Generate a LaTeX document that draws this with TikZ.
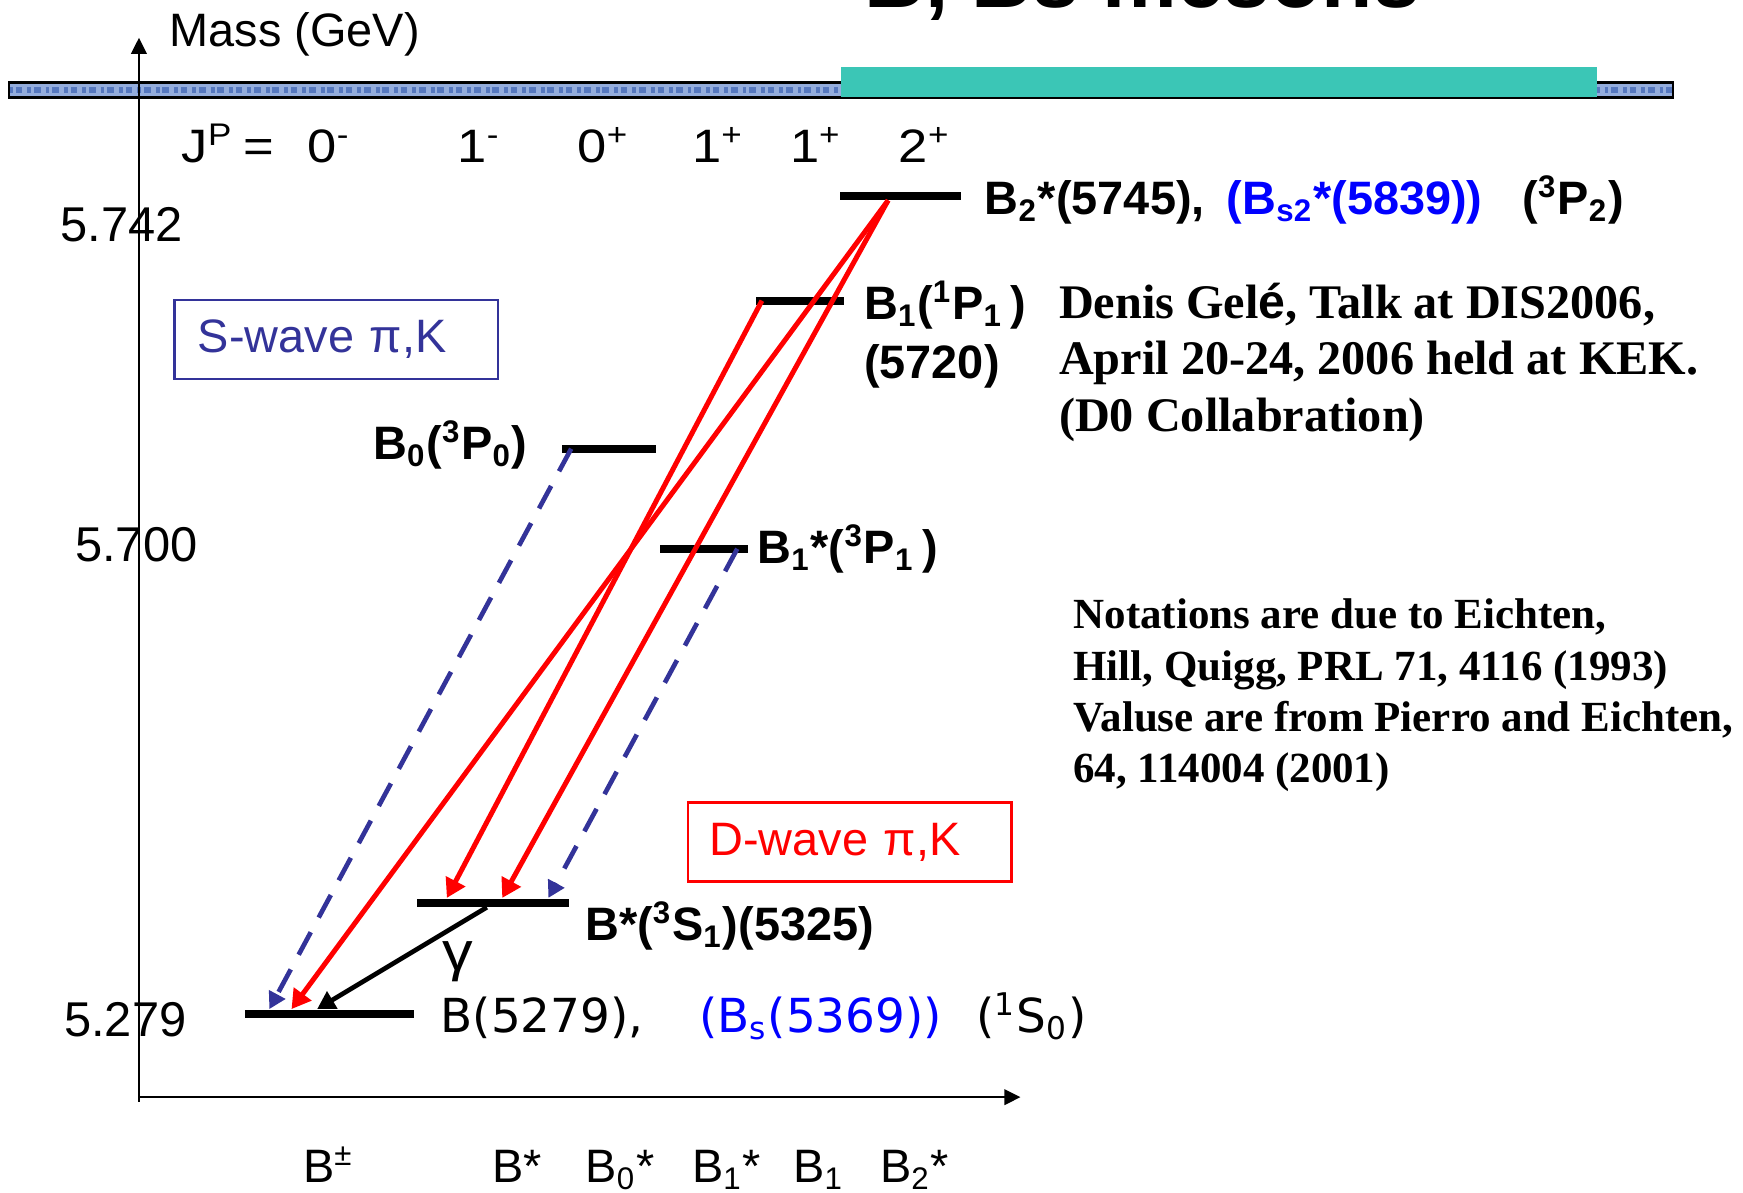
\documentclass[tikz,border=0pt]{standalone}
\usepackage{fontspec}
\setmainfont{Liberation Sans}
\newfontfamily\comicfont{Liberation Sans}[FakeStretch=1.12]
\newfontfamily\roundfont{DejaVu Sans}
\newfontfamily\reffont{Liberation Serif}
\usepackage{xcolor}
\usepackage{tikz}
\usetikzlibrary{arrows.meta,positioning,calc}
\definecolor{waveBlue}{HTML}{333399}
\definecolor{stateBlue}{HTML}{0000FF}
\definecolor{bannerTeal}{HTML}{3BC6B6}
\definecolor{bannerBlue}{HTML}{93ACDC}
\definecolor{bannerSpeck}{HTML}{5577BE}
\tikzset{
  massline/.style={
    rectangle,
    fill=black,
    inner sep=0pt,
    minimum height=0.7mm
  },
  statelabel/.style={
    inner sep=0pt,
    font=\bfseries\fontsize{12}{15}\selectfont
  },
  groundlabel/.style={
    inner sep=0pt,
    font=\roundfont\fontsize{12}{14}\selectfont
  },
  ticklabel/.style={
    inner sep=0pt,
    anchor=base west,
    font=\fontsize{12.5}{15}\selectfont
  },
  comiclabel/.style={
    inner sep=0pt,
    anchor=base west,
    font=\comicfont\fontsize{12}{14}\selectfont
  },
  mesonlabel/.style={
    inner sep=0pt,
    anchor=base west,
    font=\fontsize{12}{14}\selectfont
  },
  wavebox/.style={
    rectangle,
    line width=0.22mm,
    minimum width=29.1mm,
    minimum height=7.1mm,
    text width=24.9mm,
    inner xsep=2.1mm,
    align=left,
    font=\fontsize{12}{14}\selectfont
  },
  reftext/.style={
    inner sep=0pt,
    anchor=west,
    align=left,
    font=\reffont\bfseries\fontsize{12.35}{14.5}\selectfont
  },
  notetext/.style={
    inner sep=0pt,
    anchor=west,
    align=left,
    font=\reffont\bfseries\fontsize{11}{13.1}\selectfont
  },
  axis/.style={
    line width=0.2mm,
    -{Triangle[length=1.45mm,width=1.4mm]}
  },
  swave/.style={
    draw=waveBlue,
    line width=0.42mm,
    dash pattern=on 2.3mm off 1.5mm,
    -{Triangle[length=1.5mm,width=1.6mm]}
  },
  dwave/.style={
    draw=red,
    line width=0.45mm,
    -{Triangle[length=1.7mm,width=1.9mm]}
  },
  photon/.style={
    draw=black,
    line width=0.42mm,
    -{Triangle[length=1.6mm,width=1.75mm]}
  }
}

\begin{document}
\begin{tikzpicture}[x=0.1mm,y=-0.1mm]
  \useasboundingbox (0,0) rectangle (1568,1073);
  % slide title, cut by the page top
  \node[inner sep=0pt,anchor=base west,font=\bfseries\fontsize{21.5}{24}\selectfont] (title) at (777,7) {B, Bs mesons};
  % banner
  \fill[bannerBlue] (8,74) rectangle (1505,88);
  \draw[bannerSpeck,line width=0.5mm,dash pattern=on 0.35mm off 0.25mm on 0.6mm off 0.45mm] (8,81) -- (1505,81);
  \draw[line width=0.25mm] (8,74) rectangle (1505,88);
  \fill[bannerTeal] (757,60) rectangle (1437,87);
  % axes
  \coordinate (ybot) at (125,991);
  \coordinate (ytop) at (125,34);
  \coordinate (origin) at (125,987);
  \coordinate (xend) at (918,987);
  \node[comiclabel,font=\fontsize{12}{14}\selectfont] (mass) at (152,42) {Mass (GeV)};
  \node[ticklabel] (m5742) at (54,217.5) {5.742};
  \node[ticklabel] (m5700) at (67,505.5) {5.700};
  \node[ticklabel] (m5279) at (57,932.5) {5.279};
  \draw[axis] (ybot) -- (ytop);
  \draw[axis] (origin) -- (xend);
  % J^P row
  \node[comiclabel] (jp) at (163,146) {J\textsuperscript{P}\hspace{0.9mm}=};
  \node[comiclabel] (jpa) at (276,146) {0\textsuperscript{-}};
  \node[comiclabel] (jpb) at (411,146) {1\textsuperscript{-}};
  \node[comiclabel] (jpc) at (519,146) {0\textsuperscript{+}};
  \node[comiclabel] (jpd) at (622,146) {1\textsuperscript{+}};
  \node[comiclabel] (jpe) at (710,146) {1\textsuperscript{+}};
  \node[comiclabel] (jpf) at (808,146) {2\textsuperscript{+}};
  % mass levels
  \node[massline,minimum width=15.2mm] (Bg) at (296,912) {};
  \node[massline,minimum width=13.7mm] (Bst) at (443.5,812) {};
  \node[massline,minimum width=8.4mm] (Bzero) at (548,403.7) {};
  \node[massline,minimum width=7.9mm] (Bonest) at (633.5,493.7) {};
  \node[massline,minimum width=7.9mm] (Bone) at (720,270.5) {};
  \node[massline,minimum width=10.9mm] (Btwo) at (810,176) {};
  % level labels
  \node[groundlabel,right=2.3mm of Bg.east,yshift=-0.2mm] (Bglab)
    {B(5279),\hspace{5mm}{\color{stateBlue}(B\textsubscript{s}(5369))}\hspace{3.1mm}(\textsuperscript{1}S\textsubscript{0})};
  \node[statelabel,right=1.3mm of Bst.east,yshift=-2.1mm] (Bstlab)
    {B*(\textsuperscript{3}S\textsubscript{1})(5325)};
  \node[statelabel,left=3mm of Bzero.west,yshift=0.35mm] (Bzerolab)
    {B\textsubscript{0}(\textsuperscript{3}P\textsubscript{0})};
  \node[statelabel,right=0.7mm of Bonest.east] (Bonestlab)
    {B\textsubscript{1}*(\textsuperscript{3}P\textsubscript{1}\,)};
  \node[statelabel,align=left,right=1.65mm of Bone.east,yshift=-3.05mm] (Bonelab)
    {B\textsubscript{1}(\textsuperscript{1}P\textsubscript{1}\,)\\(5720)};
  \node[statelabel,right=2mm of Btwo.east,yshift=-0.4mm] (Btwolab)
    {B\textsubscript{2}*(5745),\hspace{2mm}{\color{stateBlue}(B\textsubscript{s2}*(5839))}\hspace{3.6mm}(\textsuperscript{3}P\textsubscript{2})};
  % transitions
  \draw[swave] ($(Bzero.west)!0.1!(Bzero.east)$) -- ($(Bg.north west)!0.15!(Bg.north east)$);
  \draw[swave] ($(Bonest.west)!0.87!(Bonest.east)$) -- ($(Bst.north west)!0.86!(Bst.north east)$);
  \draw[dwave] ($(Btwo.south west)!0.4!(Btwo.south east)$) -- ($(Bg.north west)!0.28!(Bg.north east)$);
  \draw[dwave] ($(Btwo.south west)!0.4!(Btwo.south east)$) -- ($(Bst.north west)!0.56!(Bst.north east)$);
  \draw[dwave] ($(Bone.west)!0.07!(Bone.east)$) -- ($(Bst.north west)!0.2!(Bst.north east)$);
  \draw[photon] ($(Bst.south west)!0.46!(Bst.south east)$) -- ($(Bg.north west)!0.43!(Bg.north east)$);
  \node[inner sep=0pt,font=\comicfont\fontsize{14}{16}\selectfont] (gam) at (412,865) {γ};
  % wave boxes
  \node[wavebox,draw=waveBlue,text=waveBlue] (sbox) at (302.5,305.5) {S-wave π,K};
  \node[wavebox,draw=red,text=red,inner xsep=1.9mm,text width=25.3mm] (dbox) at (764.5,757.5) {D-wave π,K};
  % references
  \node[reftext] (talk) at (952,326)
    {Denis Gel{\rmfamily é}, Talk at DIS2006,\\April 20-24, 2006 held at KEK.\\(D0 Collabration)};
  \node[notetext] (notes) at (965,625.5)
    {Notations are due to Eichten,\\Hill, Quigg, PRL 71, 4116 (1993)\\Valuse are from Pierro and Eichten,\\64, 114004 (2001)};
  % meson names under the axis
  \node[mesonlabel] (nBpm) at (272,1064) {B\textsuperscript{±}};
  \node[mesonlabel] (nBst) at (442,1064) {B*};
  \node[mesonlabel] (nBzero) at (526,1064) {B\textsubscript{0}*};
  \node[mesonlabel] (nBonest) at (622,1064) {B\textsubscript{1}*};
  \node[mesonlabel] (nBone) at (713,1064) {B\textsubscript{1}};
  \node[mesonlabel] (nBtwo) at (791,1064) {B\textsubscript{2}*};
\end{tikzpicture}
\end{document}
